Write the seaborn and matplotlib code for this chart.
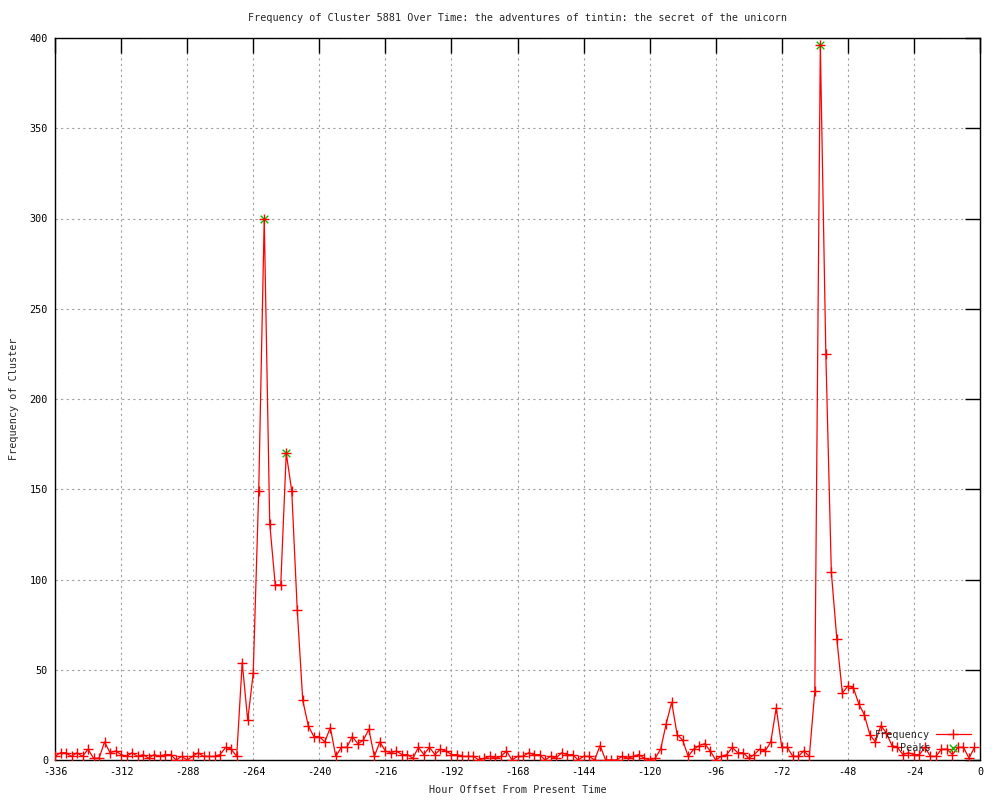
import numpy as np
import pandas as pd
import matplotlib
matplotlib.use("Agg")
import matplotlib.pyplot as plt
import seaborn as sns

# hours before now, one reading every 2 hours
hours = list(range(-336, 0, 2))
freq = [2, 4, 4, 2, 4, 2, 6, 1, 1, 10, 4, 5, 3, 2, 4, 2, 3, 1, 3, 2,
        3, 3, 0, 2, 0, 2, 4, 2, 2, 2, 3, 7, 6, 2, 54, 22, 48, 149, 300, 131,
        97, 97, 170, 149, 83, 33, 19, 13, 13, 10, 18, 2, 7, 7, 13, 9, 11, 17, 2, 10,
        5, 4, 5, 3, 3, 1, 7, 3, 7, 3, 6, 5, 3, 3, 2, 2, 2, 0, 1, 2,
        1, 2, 5, 0, 2, 2, 4, 3, 3, 0, 2, 1, 4, 3, 3, 0, 2, 2, 0, 8,
        0, 0, 0, 2, 1, 2, 3, 1, 0, 1, 6, 20, 32, 14, 11, 2, 6, 8, 9, 5,
        0, 2, 3, 7, 4, 4, 1, 3, 6, 5, 10, 29, 7, 7, 2, 2, 5, 2, 38, 396,
        225, 104, 67, 37, 41, 40, 31, 25, 14, 10, 19, 15, 8, 7, 3, 4, 3, 3, 7, 2,
        2, 6, 6, 3, 7, 7, 1, 7]
peak_hours = [-260, -252, -58]
peak_vals = [300, 170, 396]

df = pd.DataFrame({"hour": hours, "freq": freq})
peaks = pd.DataFrame({"hour": peak_hours, "freq": peak_vals})

sns.set_style("white")
plt.rcParams["font.family"] = ["DejaVu Sans Mono"]
plt.rcParams["axes.unicode_minus"] = False
fs = 7.3

fig = plt.figure(figsize=(10, 8), dpi=100)
ax = fig.add_axes([0.055, 0.05, 0.925, 0.9025])

sns.scatterplot(data=peaks, x="hour", y="freq", ax=ax, color="#00c000", marker="x",
                s=30, linewidth=1.0, label="Peaks", zorder=2)
sns.lineplot(data=df, x="hour", y="freq", ax=ax, color="red", lw=0.9,
             marker="+", markersize=7, markeredgewidth=1.0,
             markeredgecolor="red", label="Frequency", zorder=3)

ax.set_xlim(-336, 0)
ax.set_ylim(0, 400)
ax.set_xticks(np.arange(-336, 1, 24))
ax.set_yticks(np.arange(0, 401, 50))
ax.grid(True, color="#a0a0a0", linestyle=(0, (2, 3)), linewidth=0.8)
ax.tick_params(direction="in", length=11, width=1, top=True, right=True,
               labelsize=fs, pad=5, colors="black")
for s in ax.spines.values():
    s.set_color("black")
    s.set_linewidth(1)

ax.set_title("Frequency of Cluster 5881 Over Time: the adventures of tintin: the secret of the unicorn",
             fontsize=fs, pad=12)
ax.set_xlabel("Hour Offset From Present Time", fontsize=fs, labelpad=6)
ax.set_ylabel("Frequency of Cluster", fontsize=fs, labelpad=8)

# gnuplot style key: label first, sample after, Frequency on top
h, l = ax.get_legend_handles_labels()
order = [l.index("Frequency"), l.index("Peaks")]
ax.legend([h[i] for i in order], [l[i] for i in order], loc="lower right",
          bbox_to_anchor=(0.998, 0.0), frameon=False, markerfirst=False,
          fontsize=fs, handlelength=3.5, labelspacing=0.3,
          borderaxespad=0.3, handletextpad=0.5)

fig.savefig("out.png", dpi=100)
